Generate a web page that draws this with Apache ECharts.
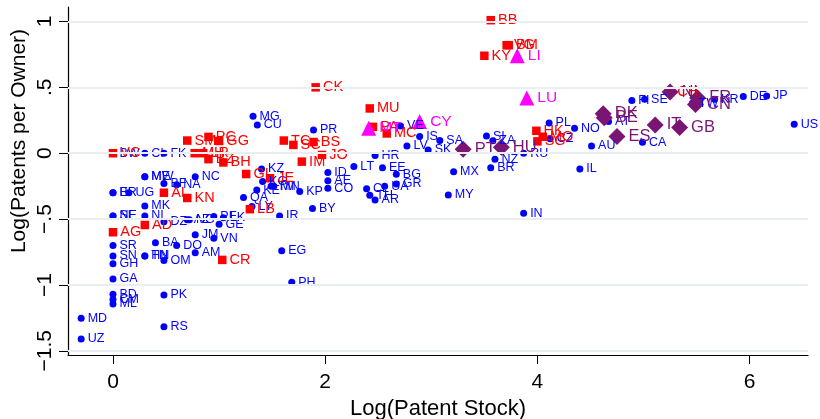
<!DOCTYPE html>
<html><head><meta charset="utf-8">
<script src="https://cdn.jsdelivr.net/npm/echarts@6/dist/echarts.min.js"></script>
<style>html,body{margin:0;padding:0;background:#fff}#c{width:820px;height:419px}</style>
</head><body><div id="c"></div>
<script>
// Blue circles
const blueNames = ["BW","CI","FK","MG","CU","PR","ME","MW","NC","BF","NA","BI","ER","UG","MK","NI","NE","SL","DZ","AZ","NG","PE","LK","GE","JM","VN","BA","DO","AM","EG","SR","SN","GH","HN","TN","OM","GA","BD","CM","ML","PK","RS","MD","UZ","PH","KZ","KG","KE","TM","MN","KP","QA","LY","IR","BY","ID","AE","CO","LT","HR","EE","BG","GR","UA","CL","TH","AR","VE","IS","LV","SK","SA","SI","ZA","MX","MY","RU","NZ","BR","IN","PL","CZ","NO","AU","IL","AT","FI","SE","CA","TW","KR","DE","JP","US"];
const blueX = [0,0.30,0.48,1.32,1.36,1.89,0.30,0.30,0.775,0.48,0.60,0,0,0.15,0.30,0.30,0,0,0.48,0.70,0.72,0.95,1.04,1.00,0.775,0.95,0.40,0.60,0.775,1.59,0,0,0,0.30,0.30,0.48,0,0,0,0,0.48,0.48,-0.30,-0.30,1.685,1.40,1.41,1.355,1.49,1.515,1.76,1.23,1.31,1.57,1.88,2.025,2.025,2.025,2.27,2.47,2.54,2.67,2.67,2.56,2.39,2.42,2.47,2.71,2.89,2.77,2.97,3.08,3.52,3.58,3.21,3.16,3.87,3.60,3.56,3.87,4.11,4.12,4.35,4.51,4.40,4.67,4.89,5.01,4.99,5.46,5.67,5.94,6.16,6.42];
const blueY = [0,0,0,0.28,0.215,0.176,-0.178,-0.178,-0.178,-0.23,-0.24,-0.30,-0.30,-0.30,-0.40,-0.476,-0.476,-0.476,-0.52,-0.506,-0.506,-0.48,-0.49,-0.54,-0.62,-0.645,-0.68,-0.70,-0.755,-0.74,-0.70,-0.78,-0.84,-0.78,-0.78,-0.815,-0.955,-1.07,-1.11,-1.145,-1.076,-1.317,-1.253,-1.41,-0.98,-0.12,-0.215,-0.28,-0.25,-0.25,-0.29,-0.337,-0.405,-0.476,-0.42,-0.147,-0.21,-0.266,-0.10,-0.018,-0.11,-0.16,-0.233,-0.25,-0.27,-0.32,-0.355,0.207,0.126,0.055,0.025,0.096,0.13,0.094,-0.14,-0.317,0.0,-0.046,-0.11,-0.455,0.23,0.11,0.19,0.055,-0.12,0.24,0.40,0.41,0.084,0.38,0.41,0.43,0.435,0.22];
// Red squares
const redNames = ["BB","VG","BM","KY","CK","MU","PA","MC","HK","SG","MO","VC","SM","PC","GG","MH","LR","BZ","BH","GI","JE","TC","SC","BS","IM","JO","AI","KN","LB","AD","AG","CR","CH"];
const redX = [3.56,3.71,3.73,3.50,1.91,2.42,2.45,2.58,3.99,4.00,4.05,0,0.70,0.90,1.00,0.77,0.85,0.90,1.04,1.255,1.48,1.61,1.70,1.89,1.78,1.97,0.48,0.70,1.29,0.30,0,1.03,5.25];
const redY = [1.01,0.82,0.82,0.74,0.50,0.34,0.20,0.15,0.17,0.09,0.125,0,0.096,0.124,0.093,0,0,-0.045,-0.07,-0.158,-0.19,0.096,0.063,0.085,-0.064,-0.013,-0.30,-0.34,-0.425,-0.545,-0.60,-0.81,0.465];
// Magenta triangles
const magNames = ["LI","LU","CY","MT"];
const magX = [3.81,3.90,2.89,2.41];
const magY = [0.74,0.42,0.24,0.19];
// Purple diamonds
const purNames = ["NL","FR","CN","DK","BE","ES","IT","GB","PT","HU"];
const purX = [5.25,5.51,5.49,4.62,4.63,4.75,5.11,5.34,3.30,3.66];
const purY = [0.465,0.42,0.37,0.30,0.27,0.127,0.215,0.195,0.03,0.046];

const yTicks = [-1.5,-1,-0.5,0,0.5,1];
const xTicks = [0,2,4,6];
const FONT = "Liberation Sans";

function pts(n,x,y){return n.map((s,i)=>[x[i],y[i],s]);}
function fmtY(v){
  if (v===0) return "0";
  let s = String(Math.abs(v)).replace(/^0\./,".");
  return (v<0?"\u2212":"")+s;
}
function scat(name,data,symbol,size,color,fs){
  return {type:"scatter",name,data,symbol,symbolSize:size,
    itemStyle:{color,opacity:1},
    label:{show:true,position:"right",distance:3,formatter:p=>p.data[2],
      color,fontSize:fs,fontFamily:FONT},
    labelLayout:{hideOverlap:false},
    emphasis:{disabled:true},animation:false};
}
const chart = echarts.init(document.getElementById("c"),null,{renderer:"canvas"});
chart.setOption({
  animation:false,
  grid:{left:68,right:12,top:7,bottom:64,outerBoundsMode:"none",containLabel:false},
  graphic:[{type:"text",x:19,y:141,rotation:Math.PI/2,silent:true,
    style:{text:"Log(Patents per Owner)",fill:"#000",font:"21px 'Liberation Sans'",
      textAlign:"center",textVerticalAlign:"middle"}}],
  xAxis:{type:"value",min:-0.424,max:6.55,
    axisLine:{show:true,onZero:false,lineStyle:{color:"#000",width:1.2}},
    axisTick:{show:true,length:9,customValues:xTicks,lineStyle:{color:"#000"}},
    axisLabel:{customValues:xTicks,color:"#000",fontSize:21,fontFamily:FONT,margin:17},
    splitLine:{show:false},
    name:"Log(Patent Stock)",nameLocation:"middle",nameGap:43,
    nameTextStyle:{color:"#000",fontSize:22,fontFamily:FONT}},
  yAxis:{type:"value",min:-1.532,max:1.11,
    axisLine:{show:true,onZero:false,lineStyle:{color:"#000",width:1.2}},
    axisTick:{show:true,length:9,customValues:yTicks,lineStyle:{color:"#000"}},
    axisLabel:{customValues:yTicks,rotate:90,formatter:fmtY,color:"#000",fontSize:21,fontFamily:FONT,margin:12},
    splitLine:{show:false}},
  series:[
    {type:"line",data:[],silent:true,
      markLine:{silent:true,symbol:"none",label:{show:false},animation:false,
        lineStyle:{color:"#e9eef3",width:2,type:"solid"},
        data:yTicks.map(v=>({yAxis:v}))}},
    scat("blue",pts(blueNames,blueX,blueY),"circle",7,"#0000ff",12.5),
    scat("red",pts(redNames,redX,redY),"rect",8.5,"#ff0000",14.5),
    scat("mag",pts(magNames,magX,magY),"triangle",15,"#ff00ff",15.5),
    scat("pur",pts(purNames,purX,purY),"diamond",17,"#7a1573",16.5)
  ]
});
</script></body></html>
